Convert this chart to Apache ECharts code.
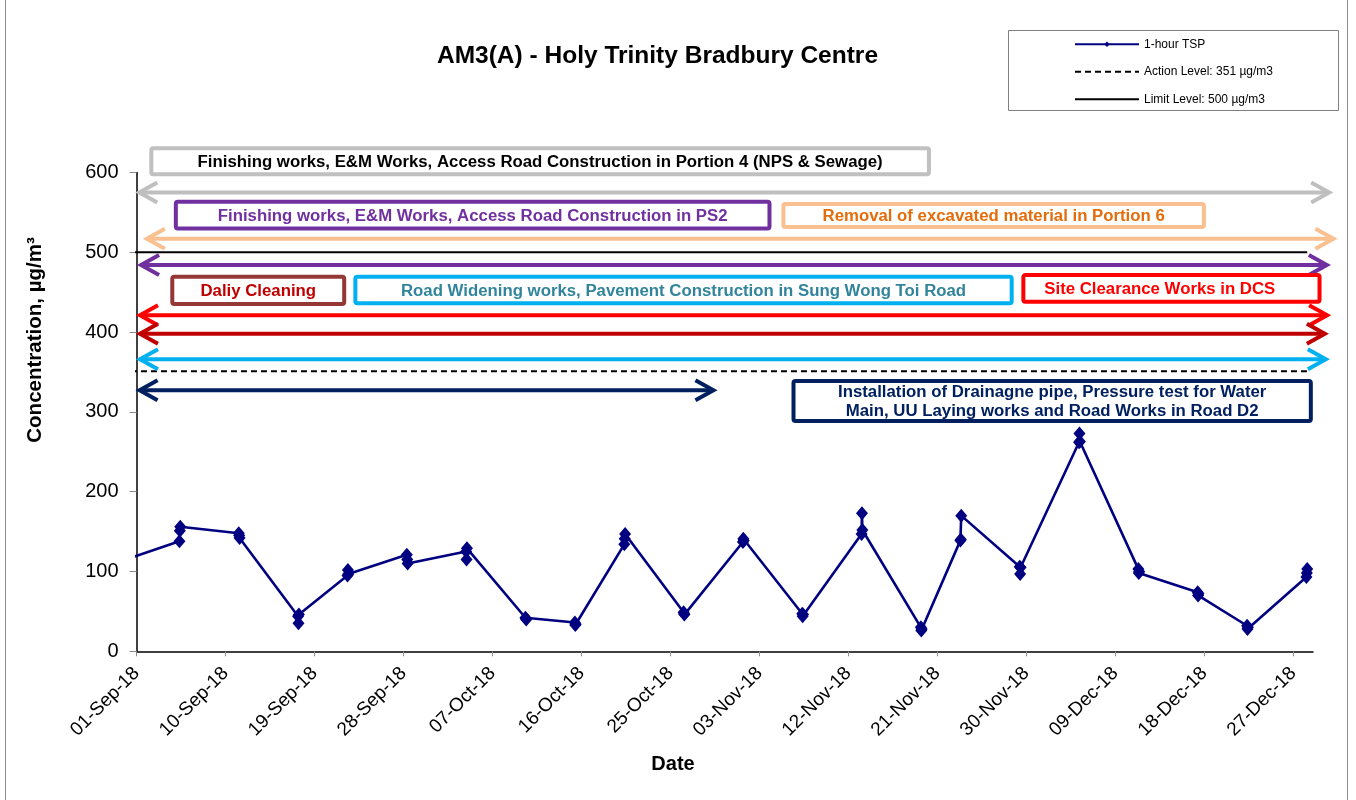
<!DOCTYPE html>
<html><head><meta charset="utf-8">
<script src="https://cdn.jsdelivr.net/npm/echarts@6/dist/echarts.min.js"></script>
<style>html,body{margin:0;padding:0;background:#fff}#c{width:1356px;height:800px}</style>
</head><body><div id="c"></div>
<script>
const FONT = "'Liberation Sans', Arial, sans-serif";

// ---------- chart texts ----------
const chartTitle = 'AM3(A) - Holy Trinity Bradbury Centre';
const xAxisTitle = 'Date';
const yAxisTitle = 'Concentration, µg/m³';
const seriesNames = ['1-hour TSP', 'Action Level: 351 µg/m3', 'Limit Level: 500 µg/m3'];

// ---------- axes ----------
const xRange = ['2018-09-01 00:00', '2018-12-29 00:00'];
const xTickDates = ['2018-09-01', '2018-09-10', '2018-09-19', '2018-09-28', '2018-10-07', '2018-10-16',
  '2018-10-25', '2018-11-03', '2018-11-12', '2018-11-21', '2018-11-30', '2018-12-09', '2018-12-18', '2018-12-27'];
const yMin = 0, yMax = 600, yStep = 100;

// ---------- data: 1-hour TSP ----------
const tspTimes = [
  '2018-08-30 10:00',
  '2018-09-05 08:00', '2018-09-05 09:00', '2018-09-05 10:00',
  '2018-09-11 08:00', '2018-09-11 09:00', '2018-09-11 10:00',
  '2018-09-17 08:00', '2018-09-17 09:00', '2018-09-17 10:00',
  '2018-09-22 08:00', '2018-09-22 09:00', '2018-09-22 10:00',
  '2018-09-28 08:00', '2018-09-28 09:00', '2018-09-28 10:00',
  '2018-10-04 08:00', '2018-10-04 09:00', '2018-10-04 10:00',
  '2018-10-10 08:00', '2018-10-10 09:00', '2018-10-10 10:00',
  '2018-10-15 08:00', '2018-10-15 09:00', '2018-10-15 10:00',
  '2018-10-20 08:00', '2018-10-20 09:00', '2018-10-20 10:00',
  '2018-10-26 08:00', '2018-10-26 09:00', '2018-10-26 10:00',
  '2018-11-01 08:00', '2018-11-01 09:00', '2018-11-01 10:00',
  '2018-11-07 08:00', '2018-11-07 09:00', '2018-11-07 10:00',
  '2018-11-13 08:00', '2018-11-13 09:00', '2018-11-13 10:00',
  '2018-11-19 08:00', '2018-11-19 09:00', '2018-11-19 10:00',
  '2018-11-23 08:00', '2018-11-23 09:00', '2018-11-23 10:00',
  '2018-11-29 08:00', '2018-11-29 09:00', '2018-11-29 10:00',
  '2018-12-05 08:00', '2018-12-05 09:00', '2018-12-05 10:00',
  '2018-12-11 08:00', '2018-12-11 09:00', '2018-12-11 10:00',
  '2018-12-17 08:00', '2018-12-17 09:00', '2018-12-17 10:00',
  '2018-12-22 08:00', '2018-12-22 09:00', '2018-12-22 10:00',
  '2018-12-28 08:00', '2018-12-28 09:00', '2018-12-28 10:00'
];
const tspValues = [
  113,
  138, 151, 156,
  148, 145, 142,
  44, 35, 46,
  95, 102, 97,
  121, 115, 110,
  125, 115, 129,
  42, 41, 40,
  36, 33, 34,
  134, 141, 147,
  49, 47, 46,
  137, 141, 139,
  47, 44, 46,
  147, 173, 152,
  30, 26, 28,
  139, 140, 170,
  106, 97, 105,
  262, 273, 263,
  103, 98, 100,
  74, 70, 72,
  32, 28, 30,
  93, 98, 103
];
const actionLevel = 351;
const limitLevel = 500;

// ---------- activity annotations (data space: day offset from 01-Sep, concentration) ----------
const activityArrows = [
  { color: '#bfbfbf', value: 575, from: 0.27, to: 120.64 },
  { color: '#fac090', value: 517, from: 1.04, to: 121.07 },
  { color: '#7030a0', value: 484, from: 0.45, to: 120.4 },
  { color: '#ff0000', value: 421, from: 0.34, to: 120.43 },
  { color: '#c00000', value: 398, from: 0.34, to: 120.2 },
  { color: '#00b0f0', value: 366, from: 0.34, to: 120.3 },
  { color: '#002060', value: 327, from: 0.30, to: 58.35 }
];
const activityBoxes = [
  { text: 'Finishing works, E&M Works, Access Road Construction in Portion 4 (NPS & Sewage)', border: '#c0c0c0', color: '#000000', d: [1.49, 80.15], v: [630.3, 597.7] },
  { text: 'Finishing works, E&M Works, Access Road Construction in PS2', border: '#7030a0', color: '#7030a0', d: [3.97, 64.02], v: [563.4, 529.8] },
  { text: 'Removal of excavated material in Portion 6', border: '#fac090', color: '#e46c0a', d: [65.43, 107.96], v: [560.5, 531.7] },
  { text: 'Daliy Cleaning', border: '#953735', color: '#c00000', d: [3.61, 21.0], v: [469.4, 435.2] },
  { text: 'Road Widening works, Pavement Construction in Sung Wong Toi Road', border: '#00b0f0', color: '#31849b', d: [22.13, 88.52], v: [469.4, 436.1] },
  { text: 'Site Clearance Works in DCS', border: '#ff0000', color: '#ff0000', d: [89.7, 119.66], v: [471.5, 438.1], textD: 103.5 },
  { text: 'Installation of Drainagne pipe, Pressure test for Water\nMain, UU Laying works and Road Works in Road D2', border: '#002060', color: '#002060', d: [66.45, 118.78], v: [338.7, 288.6] }
];

// ---------- helpers ----------
const ORIGIN = Date.UTC(2018, 8, 1);
const MON = ['Jan','Feb','Mar','Apr','May','Jun','Jul','Aug','Sep','Oct','Nov','Dec'];
function dayOf(s) {
  const m = s.match(/(\d+)-(\d+)-(\d+)(?:\s+(\d+):(\d+))?/);
  const t = Date.UTC(+m[1], +m[2] - 1, +m[3], m[4] ? +m[4] : 0, m[5] ? +m[5] : 0);
  return (t - ORIGIN) / 86400000;
}
function fmtDay(v) {
  const dt = new Date(ORIGIN + Math.round(v * 24) * 3600000);
  const dd = String(dt.getUTCDate()).padStart(2, '0');
  return dd + '-' + MON[dt.getUTCMonth()] + '-' + String(dt.getUTCFullYear()).slice(2);
}

const xTickDays = xTickDates.map(dayOf);
const tspData = tspTimes.map((t, i) => [dayOf(t), tspValues[i]]);
const firstDay = dayOf(tspTimes[0]);
const lastDay = dayOf(tspTimes[tspTimes.length - 1]);

const chart = echarts.init(document.getElementById('c'), null, { renderer: 'canvas' });

const hiddenDot = { color: 'rgba(0,0,0,0)', borderWidth: 0, borderColor: 'rgba(0,0,0,0)' };
const option = {
  animation: false,
  backgroundColor: '#ffffff',
  textStyle: { fontFamily: FONT },
  grid: { left: 136.6, right: 43, top: 172.5, bottom: 148.7, containLabel: false },
  legend: {
    orient: 'vertical', left: 1069, top: 33.3,
    itemWidth: 64, itemHeight: 7, itemGap: 15.5,
    textStyle: { fontSize: 12, fontFamily: FONT, color: '#000' },
    data: [
      { name: seriesNames[0] },
      { name: seriesNames[1], itemStyle: hiddenDot },
      { name: seriesNames[2], itemStyle: hiddenDot }
    ],
    selectedMode: false
  },
  xAxis: {
    type: 'value',
    min: dayOf(xRange[0]), max: dayOf(xRange[1]), interval: 9,
    axisLine: { show: true, lineStyle: { color: '#000', width: 1.5 } },
    axisTick: { show: true, customValues: xTickDays, length: 5, lineStyle: { color: '#8c8c8c', width: 1 } },
    axisLabel: { customValues: xTickDays, rotate: 45, fontSize: 19, fontFamily: FONT, color: '#000', margin: 19, formatter: fmtDay },
    splitLine: { show: false }
  },
  yAxis: {
    type: 'value', min: yMin, max: yMax, interval: yStep,
    axisLine: { show: true, lineStyle: { color: '#000', width: 1.5 } },
    axisTick: { show: true, length: 7, lineStyle: { color: '#8c8c8c', width: 1 } },
    axisLabel: { fontSize: 20, fontFamily: FONT, color: '#000', margin: 18 },
    splitLine: { show: false }
  },
  series: [
    {
      name: seriesNames[0], type: 'line', data: tspData, clip: true,
      symbol: 'diamond', symbolSize: [12, 14], z: 5,
      itemStyle: { color: '#000080' },
      lineStyle: { color: '#000080', width: 2.6 }
    },
    {
      name: seriesNames[1], type: 'line', clip: true, symbol: 'none', z: 3,
      data: [[firstDay, actionLevel], [lastDay, actionLevel]],
      itemStyle: { color: '#000' },
      lineStyle: { color: '#000', width: 2, type: [6, 4] }
    },
    {
      name: seriesNames[2], type: 'line', clip: true, symbol: 'none', z: 3,
      data: [[firstDay, limitLevel], [lastDay, limitLevel]],
      itemStyle: { color: '#000' },
      lineStyle: { color: '#000', width: 2 }
    }
  ]
};
chart.setOption(option);

// ---------- annotations placed through the axes' scales ----------
function px(d, v) { return chart.convertToPixel({ xAxisIndex: 0, yAxisIndex: 0 }, [d, v]); }
const g = [];
g.push({ type: 'rect', shape: { x: 5.5, y: -5, width: 1342, height: 810 }, style: { fill: null, stroke: '#8c8c8c', lineWidth: 1 }, z: 1 });
g.push({ type: 'rect', shape: { x: 1008.5, y: 30.5, width: 330, height: 80 }, style: { fill: null, stroke: '#808080', lineWidth: 1 }, z: 1 });
g.push({ type: 'text', x: 657.5, y: 56.5, style: { text: chartTitle, font: 'bold 24.5px ' + FONT, fill: '#000', align: 'center', verticalAlign: 'middle' }, z: 10 });
g.push({ type: 'text', x: 673, y: 764, style: { text: xAxisTitle, font: 'bold 20px ' + FONT, fill: '#000', align: 'center', verticalAlign: 'middle' }, z: 10 });
g.push({ type: 'text', x: 35, y: 340, rotation: Math.PI / 2, style: { text: yAxisTitle, font: 'bold 20.5px ' + FONT, fill: '#000', align: 'center', verticalAlign: 'middle' }, z: 10 });

const DEPTH = 18, HALF = 10, LW = 4;
activityArrows.forEach(a => {
  const L = px(a.from, a.value), R = px(a.to, a.value);
  const y = L[1];
  g.push({ type: 'line', shape: { x1: L[0] + 2, y1: y, x2: R[0] - 2, y2: y }, style: { stroke: a.color, lineWidth: LW }, z: 20 });
  g.push({ type: 'polyline', shape: { points: [[L[0] + DEPTH, y - HALF], [L[0], y], [L[0] + DEPTH, y + HALF]] }, style: { stroke: a.color, lineWidth: LW, fill: null, lineJoin: 'miter' }, z: 20 });
  g.push({ type: 'polyline', shape: { points: [[R[0] - DEPTH, y - HALF], [R[0], y], [R[0] - DEPTH, y + HALF]] }, style: { stroke: a.color, lineWidth: LW, fill: null, lineJoin: 'miter' }, z: 20 });
});
activityBoxes.forEach(b => {
  const p0 = px(b.d[0], b.v[0]), p1 = px(b.d[1], b.v[1]);
  const x = p0[0], y = p0[1], w = p1[0] - p0[0], h = p1[1] - p0[1];
  const cx = b.textD != null ? px(b.textD, b.v[0])[0] : x + w / 2;
  g.push({ type: 'rect', shape: { x: x, y: y, width: w, height: h, r: 2 }, style: { fill: '#fff', stroke: null }, z: 30 });
  g.push({ type: 'text', x: cx, y: y + h / 2 + 1, style: { text: b.text, font: 'bold 16.8px ' + FONT, fill: b.color, align: 'center', verticalAlign: 'middle', lineHeight: 19 }, z: 31 });
  g.push({ type: 'rect', shape: { x: x, y: y, width: w, height: h, r: 2 }, style: { fill: null, stroke: b.border, lineWidth: LW }, z: 32 });
});
chart.setOption({ graphic: g });
</script>
</body></html>
